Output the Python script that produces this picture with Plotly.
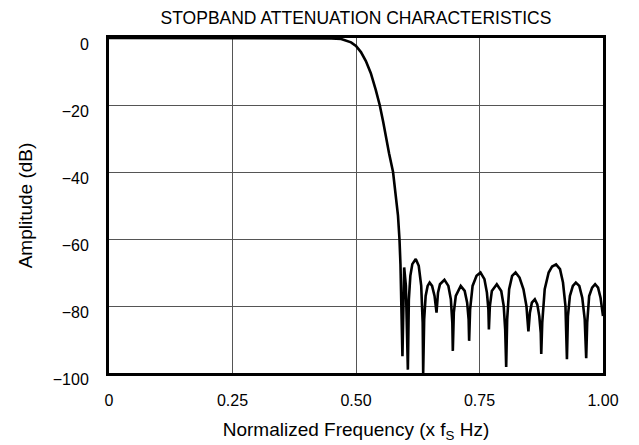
import plotly.graph_objects as go

freq = [0.0, 0.40, 0.45, 0.47, 0.48, 0.49, 0.50, 0.51, 0.52, 0.53, 0.54, 0.548, 0.555, 0.56, 0.567, 0.575,
        0.58, 0.585, 0.588, 0.590, 0.594, 0.5975, 0.601, 0.605,
        0.607, 0.610, 0.614, 0.621, 0.627, 0.632, 0.635, 0.636,
        0.638, 0.641, 0.645, 0.649, 0.654, 0.659, 0.663,
        0.666, 0.670, 0.679, 0.687, 0.692, 0.695, 0.696,
        0.698, 0.702, 0.712, 0.720, 0.725, 0.728, 0.729,
        0.731, 0.736, 0.744, 0.752, 0.760, 0.765, 0.768, 0.769,
        0.771, 0.775, 0.785, 0.794, 0.799, 0.802, 0.804,
        0.806, 0.810, 0.816, 0.823, 0.831, 0.839, 0.845, 0.849,
        0.852, 0.856, 0.862, 0.867, 0.871, 0.874, 0.875,
        0.877, 0.882, 0.890, 0.897, 0.905, 0.913, 0.919, 0.924, 0.927,
        0.929, 0.933, 0.939, 0.945, 0.952, 0.958, 0.963, 0.966,
        0.968, 0.972, 0.978, 0.984, 0.990, 0.995, 1.0]
amplitude_db = [0.0, 0.0, -0.1, -0.3, -0.7, -1.3, -2.4, -4.2, -6.9, -10.5, -15.5, -20, -25, -29.5, -34.5, -40,
                -47, -53, -60, -67.5, -95, -68.5, -74, -99,
                -78, -71, -67.5, -66, -68, -74, -85, -100,
                -84, -77, -74, -73, -74, -77, -82,
                -76, -73.5, -72.2, -74, -78, -85, -93.4,
                -82, -77, -74, -75.5, -79, -84, -90.4,
                -81, -74, -71, -70, -72, -76, -81, -87,
                -80, -75.5, -73.5, -75.5, -80, -87, -98.2,
                -84, -75, -71, -70, -71.5, -75, -80, -87.6,
                -82, -79, -78, -79.5, -83, -88, -94.3,
                -85, -75, -70, -68.2, -67.6, -69, -73, -80, -95.9,
                -83, -77, -74, -73, -74, -77.5, -84, -95.6,
                -85, -77, -74.5, -73.5, -74.5, -77.5, -83]

x_tickvals = [0, 0.25, 0.5, 0.75, 1.0]
x_ticktext = ["0", "0.25", "0.50", "0.75", "1.00"]
y_tickvals = [0, -20, -40, -60, -80, -100]

fig = go.Figure()
fig.add_trace(go.Scatter(x=freq, y=amplitude_db, mode="lines",
                         line=dict(color="black", width=2.6), showlegend=False,
                         cliponaxis=True))

FAM = "Liberation Sans, Arial, sans-serif"
font = dict(family=FAM, size=16, color="black")
H = 437
fig.update_layout(
    width=631, height=H,
    margin=dict(l=101, r=36, t=30, b=72),
    paper_bgcolor="white", plot_bgcolor="white",
    font=font,
    title=dict(text="STOPBAND ATTENUATION CHARACTERISTICS", x=0.5, xref="paper",
               y=1 - 10 / H, yref="container", yanchor="middle",
               font=dict(size=17.5, color="black", family=FAM)),
)
fig.update_xaxes(range=[0, 1], tickvals=x_tickvals, ticktext=x_ticktext,
                 showgrid=True, gridcolor="#555", gridwidth=1, zeroline=False,
                 showline=True, linecolor="black", linewidth=3, mirror=True,
                 ticks="", ticklabelstandoff=11, automargin=False,
                 title=dict(text="Normalized Frequency (x f<sub>S</sub> Hz)", standoff=15))
fig.update_yaxes(range=[-100, 0], tickvals=y_tickvals,
                 showgrid=True, gridcolor="#555", gridwidth=1, zeroline=False,
                 showline=True, linecolor="black", linewidth=3, mirror=True,
                 ticks="", ticklabelstandoff=14, ticklabelshift=6, automargin=False,
                 title=dict(text="Amplitude (dB)", standoff=16))

fig.write_html("out.html")
